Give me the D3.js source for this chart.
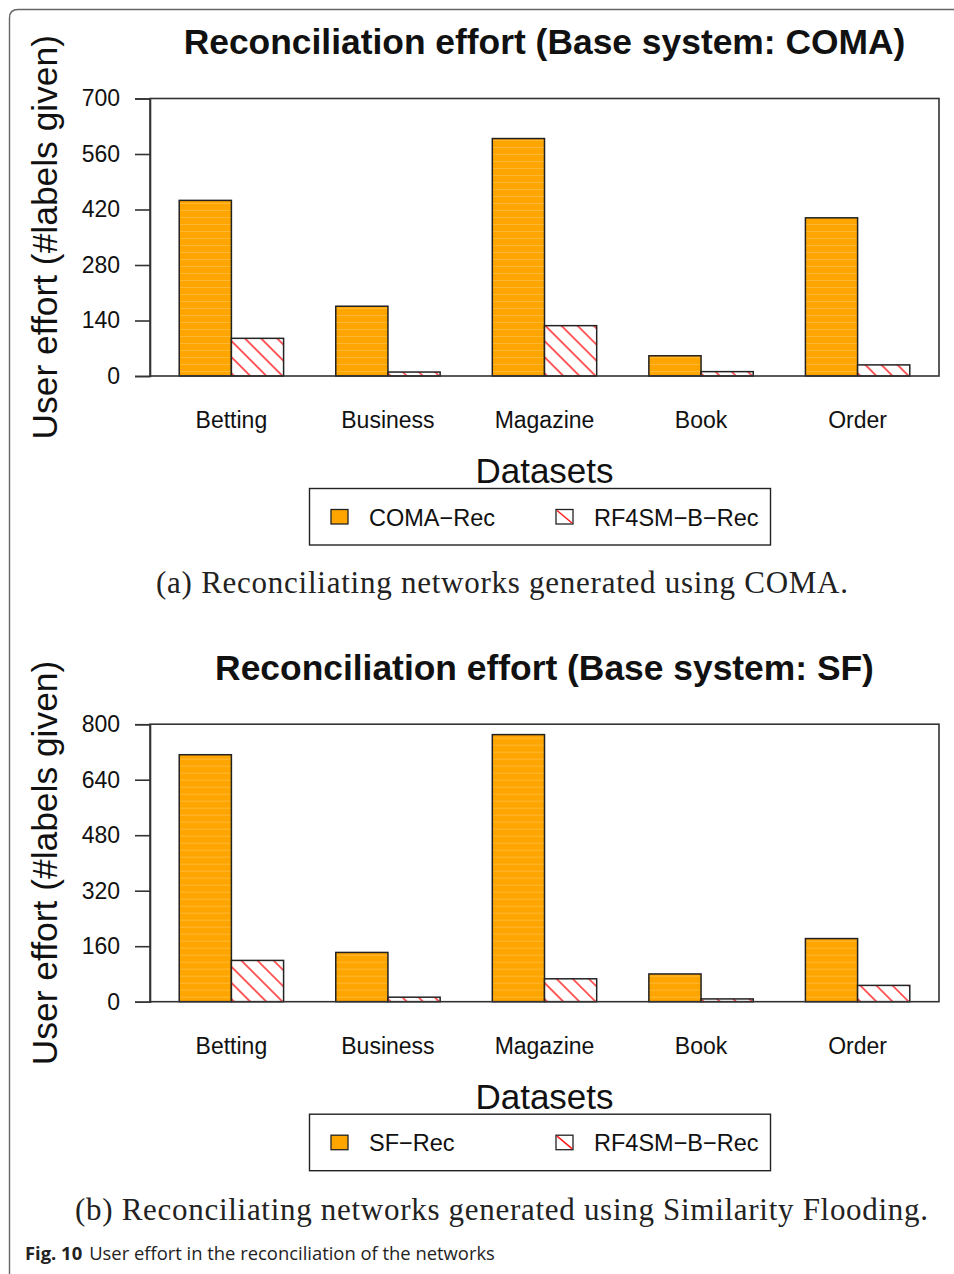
<!DOCTYPE html>
<html>
<head>
<meta charset="utf-8">
<script src="https://cdn.jsdelivr.net/npm/d3@7"></script>
<style>
  html, body { margin: 0; padding: 0; background: #fff; }
  svg { display: block; }
</style>
</head>
<body>
<script>
// ---- data ----
const datasets = ["Betting", "Business", "Magazine", "Book", "Order"];
const comaRec = [443, 176, 599, 51, 399];
const rf4smComaRec = [95, 10, 127, 11, 28];
const sfRec = [712, 142, 770, 80, 182];
const rf4smSfRec = [119, 13, 66, 8, 47];
const comaTicks = [0, 140, 280, 420, 560, 700];
const sfTicks = [0, 160, 320, 480, 640, 800];

const W = 954, H = 1274;
const sans = '"Liberation Sans", Arial, Helvetica, sans-serif';
const serif = '"Liberation Serif", "Times New Roman", serif';
const axisColor = "#333";

const svg = d3.select("body").append("svg")
  .attr("width", W).attr("height", H)
  .attr("viewBox", `0 0 ${W} ${H}`);

// patterns: faint horizontal banding on solid bars, red diagonal hatch
const defs = svg.append("defs");
const band = defs.append("pattern")
  .attr("id", "orangeFill").attr("patternUnits", "userSpaceOnUse")
  .attr("width", 10).attr("height", 7);
band.append("rect").attr("width", 10).attr("height", 7).attr("fill", "#FFA500");
band.append("line").attr("x1", 0).attr("x2", 10).attr("y1", 0.5).attr("y2", 0.5)
  .attr("stroke", "#FFC04A").attr("stroke-width", 1).attr("stroke-opacity", 0.7);

const sp = 11.4;
const hatch = defs.append("pattern")
  .attr("id", "redHatch").attr("patternUnits", "userSpaceOnUse")
  .attr("width", sp).attr("height", sp)
  .attr("patternTransform", "rotate(-45)");
hatch.append("rect").attr("width", sp).attr("height", sp).attr("fill", "#fff");
hatch.append("line").attr("x1", 1).attr("x2", 1).attr("y1", 0).attr("y2", sp)
  .attr("stroke", "#FF1A1A").attr("stroke-width", 1.4);

// outer frame (rounded top-left corner, runs off the page right and bottom)
svg.append("path")
  .attr("d", `M9.5,${H + 5} L9.5,18 Q9.5,9.5 18,9.5 L${W + 5},9.5`)
  .attr("fill", "none").attr("stroke", "#666").attr("stroke-width", 1.4);

function panel(dy, title, yMax, ticks, names, seriesA, seriesB) {
  const g = svg.append("g").attr("transform", `translate(0,${dy})`);
  const left = 150, right = 939, top = 98.5, bottom = 376;
  const unit = (right - left) / 15.12;

  const x = d3.scaleBand().domain(datasets)
    .range([left + 0.56 * unit, right - 0.56 * unit])
    .paddingInner(1 / 3).paddingOuter(0);
  const xs = d3.scaleBand().domain([0, 1]).range([0, x.bandwidth()]);
  const y = d3.scaleLinear().domain([0, yMax]).range([bottom, top]);

  const rows = datasets.map((d, i) => ({ d, v: [seriesA[i], seriesB[i]] }));
  const grp = g.selectAll("g.grp").data(rows).join("g")
    .attr("transform", r => `translate(${x(r.d)},0)`);
  grp.selectAll("rect").data(r => r.v).join("rect")
    .attr("x", (v, i) => xs(i)).attr("width", xs.bandwidth())
    .attr("y", v => y(v)).attr("height", v => y(0) - y(v))
    .attr("fill", (v, i) => i === 0 ? "url(#orangeFill)" : "url(#redHatch)")
    .attr("stroke", "#222").attr("stroke-width", 1.5);

  // plot box
  g.append("rect").attr("x", left).attr("y", top)
    .attr("width", right - left).attr("height", bottom - top)
    .attr("fill", "none").attr("stroke", axisColor).attr("stroke-width", 1.6);

  // y axis
  const ay = g.append("g").attr("transform", `translate(${left},0)`)
    .call(d3.axisLeft(y).tickValues(ticks).tickSize(15).tickPadding(15).tickFormat(d3.format("d")));
  ay.select(".domain").attr("stroke", axisColor).attr("stroke-width", 1.6);
  ay.selectAll(".tick line").attr("stroke", axisColor).attr("stroke-width", 1.6);
  ay.selectAll(".tick text").attr("font-family", sans).attr("font-size", 23).attr("fill", "#111");

  // category labels
  g.selectAll("text.cat").data(datasets).join("text")
    .attr("x", d => x(d) + x.bandwidth() / 2).attr("y", 428)
    .attr("text-anchor", "middle").attr("font-family", sans).attr("font-size", 23)
    .attr("fill", "#111").text(d => d);

  // titles
  g.append("text").attr("x", (left + right) / 2).attr("y", 54)
    .attr("text-anchor", "middle").attr("font-family", sans).attr("font-weight", "bold")
    .attr("font-size", 35.4).attr("fill", "#111").text(title);
  g.append("text").attr("x", (left + right) / 2).attr("y", 483)
    .attr("text-anchor", "middle").attr("font-family", sans)
    .attr("font-size", 35).attr("fill", "#111").text("Datasets");
  g.append("text").attr("transform", `translate(57,${(top + bottom) / 2}) rotate(-90)`)
    .attr("text-anchor", "middle").attr("font-family", sans)
    .attr("font-size", 35.4).attr("fill", "#111").text("User effort (#labels given)");

  // legend
  const lg = g.append("g");
  lg.append("rect").attr("x", 309.5).attr("y", 488.5).attr("width", 461).attr("height", 56.5)
    .attr("fill", "#fff").attr("stroke", "#222").attr("stroke-width", 1.4);
  const items = [{ name: names[0], sx: 331, tx: 369 }, { name: names[1], sx: 556, tx: 594 }];
  items.forEach((it, i) => {
    lg.append("rect").attr("x", it.sx).attr("y", 509.5).attr("width", 17).attr("height", 14.5)
      .attr("fill", i === 0 ? "#FFA500" : "#fff").attr("stroke", "#222").attr("stroke-width", 1.3);
    if (i === 1) {
      lg.append("line").attr("x1", it.sx + 1).attr("y1", 510.5)
        .attr("x2", it.sx + 16).attr("y2", 523)
        .attr("stroke", "#FF1A1A").attr("stroke-width", 1.5);
    }
    lg.append("text").attr("x", it.tx).attr("y", 525.5)
      .attr("font-family", sans).attr("font-size", 23.5).attr("fill", "#111").text(it.name);
  });
  return g;
}

panel(0, "Reconciliation effort (Base system: COMA)", 700, comaTicks,
  ["COMA\u2212Rec", "RF4SM\u2212B\u2212Rec"], comaRec, rf4smComaRec);
panel(625.7, "Reconciliation effort (Base system: SF)", 800, sfTicks,
  ["SF\u2212Rec", "RF4SM\u2212B\u2212Rec"], sfRec, rf4smSfRec);

// sub-captions
svg.append("text").attr("x", 502).attr("y", 593).attr("text-anchor", "middle")
  .attr("font-family", serif).attr("font-size", 31).attr("fill", "#222")
  .attr("textLength", 692).attr("lengthAdjust", "spacing")
  .text("(a) Reconciliating networks generated using COMA.");
svg.append("text").attr("x", 501.5).attr("y", 1220).attr("text-anchor", "middle")
  .attr("font-family", serif).attr("font-size", 31).attr("fill", "#222")
  .attr("textLength", 853).attr("lengthAdjust", "spacing")
  .text("(b) Reconciliating networks generated using Similarity Flooding.");

// figure caption
const cap = svg.append("text").attr("x", 25).attr("y", 1260)
  .attr("font-family", '"Open Sans", "Noto Sans", sans-serif').attr("font-size", 18.4).attr("fill", "#222");
cap.append("tspan").attr("font-weight", "bold").text("Fig. 10");
cap.append("tspan").attr("dx", 7).text("User effort in the reconciliation of the networks");
</script>
</body>
</html>
